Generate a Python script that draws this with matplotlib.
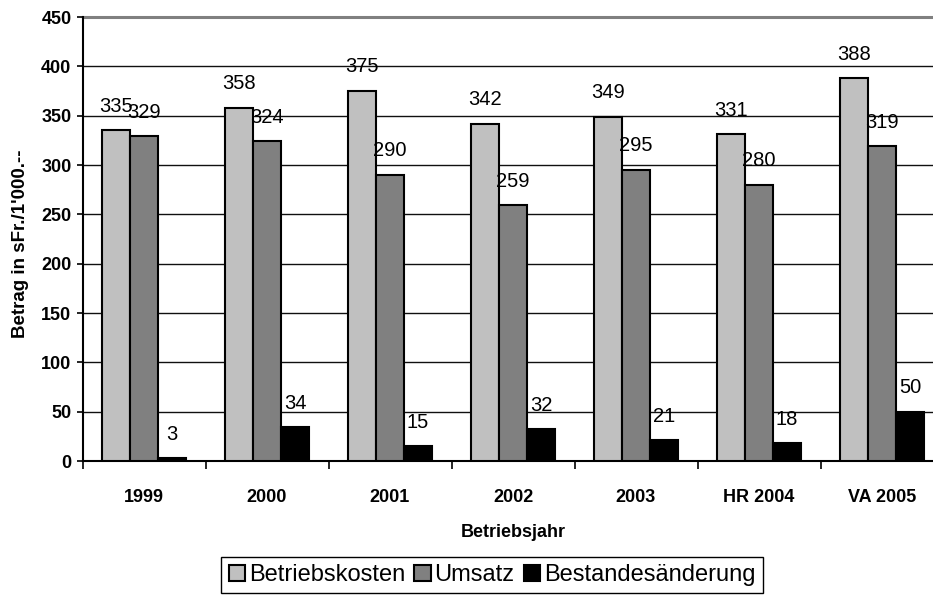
import numpy as np
import matplotlib
matplotlib.use("Agg")
import matplotlib.pyplot as plt
from matplotlib.ticker import FixedLocator

plt.rcParams['font.family'] = ['Liberation Sans', 'DejaVu Sans']

# data
years = ["1999", "2000", "2001", "2002", "2003", "HR 2004", "VA 2005"]
betriebskosten = [335, 358, 375, 342, 349, 331, 388]
umsatz = [329, 324, 290, 259, 295, 280, 319]
bestand = [3, 34, 15, 32, 21, 18, 50]

series = [("Betriebskosten", betriebskosten, "#c0c0c0"),
          ("Umsatz", umsatz, "#808080"),
          ("Bestandesänderung", bestand, "#000000")]

fig = plt.figure(figsize=(9.33, 5.98), dpi=100)
ax = fig.add_axes([82.5 / 933, 1 - 461 / 598, 861 / 933, 444 / 598])

x = np.arange(len(years))
w = 0.228
for k, (name, vals, col) in enumerate(series):
    pos = x + (k - 1) * w
    ax.bar(pos, vals, width=w, color=col, edgecolor="black",
           linewidth=1.5, label=name, zorder=3)
    for xi, v in zip(pos, vals):
        ax.annotate(str(v), (xi, v), xytext=(0, 24), textcoords="offset pixels",
                    ha="center", va="center", fontsize=14.5, zorder=4)

ax.set_xlim(-0.5, len(years) - 0.5)
ax.set_ylim(0, 450)
ax.set_yticks(np.arange(0, 451, 50))
ax.tick_params(axis="y", labelsize=13, width=1.2, length=4, pad=4)
for lab in ax.get_yticklabels():
    lab.set_fontweight("bold")

ax.set_xticks(x)
ax.set_xticklabels(years, fontsize=13, fontweight="bold")
ax.tick_params(axis="x", which="major", length=0, pad=20)
ax.xaxis.set_minor_locator(FixedLocator(np.arange(-0.5, len(years), 1.0)))
ax.tick_params(axis="x", which="minor", length=6, width=1.2, direction="out")

# gridlines
for yv in np.arange(50, 401, 50):
    ax.axhline(yv, color="#101010", linewidth=1.0, zorder=1)
ax.axhline(450, color="#808080", linewidth=2.2, zorder=1, clip_on=False)

for s in ["top", "right"]:
    ax.spines[s].set_visible(False)
ax.spines["left"].set_linewidth(1.5)
ax.spines["bottom"].set_linewidth(1.5)

ax.set_xlabel("Betriebsjahr", fontsize=13, fontweight="bold", labelpad=13)
ax.set_ylabel("Betrag in sFr./1'000.--", fontsize=13.5, fontweight="bold")
ax.yaxis.set_label_coords(-0.062, 0.49)

leg = fig.legend(loc="upper center", bbox_to_anchor=(492 / 933, 1 - 557 / 598),
                 ncol=3, fontsize=17, frameon=True, fancybox=False,
                 edgecolor="black", framealpha=1, borderaxespad=0,
                 handlelength=0.7, handleheight=0.7, handletextpad=0.15,
                 columnspacing=0.4, borderpad=0.3)
leg.get_frame().set_linewidth(1.0)

fig.savefig("out.png", dpi=100)
